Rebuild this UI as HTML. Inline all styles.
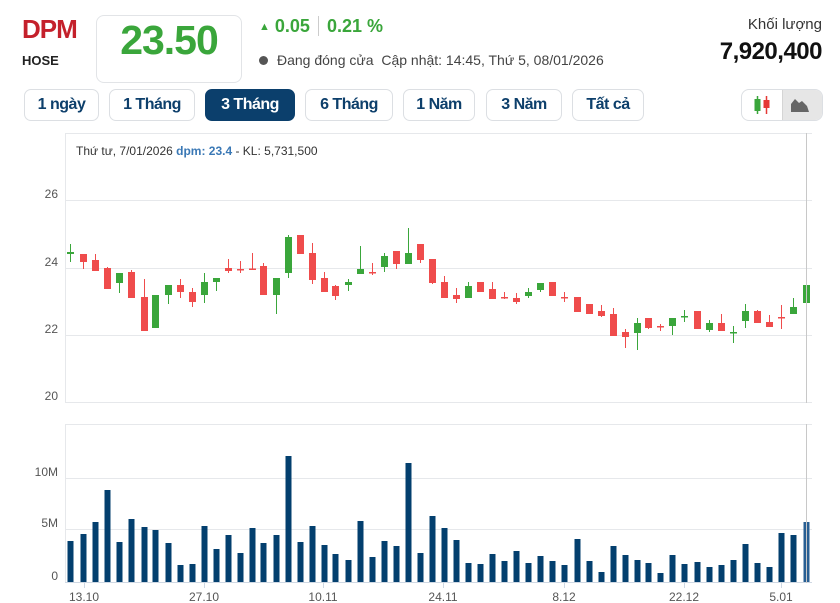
<!DOCTYPE html>
<html><head><meta charset="utf-8">
<style>
body{margin:0;background:#fff;font-family:"Liberation Sans",sans-serif;width:840px;height:603px;overflow:hidden;position:relative}
.a{position:absolute;white-space:nowrap}
.btn{position:absolute;top:89px;height:30px;border:1px solid #dcdfe3;border-radius:7px;font-size:16px;font-weight:bold;color:#0d3f6b;text-align:center;line-height:30px;letter-spacing:-0.5px}
.act{background:#0b3f6c;color:#fff;border-color:#0b3f6c}
</style></head><body>
<div class="a" style="left:22px;top:14px;font-size:26px;font-weight:bold;color:#c4202b;letter-spacing:-1px">DPM</div>
<div class="a" style="left:22px;top:53px;font-size:13px;font-weight:bold;color:#222">HOSE</div>
<div class="a" style="left:96px;top:15px;width:144px;height:66px;border:1px solid #e2e4e7;border-radius:8px"></div>
<div class="a" style="left:96px;top:17px;width:146px;text-align:center;font-size:41px;font-weight:bold;color:#3aa63b;letter-spacing:-1px">23.50</div>
<div class="a" style="left:259px;top:16px;font-size:18px;font-weight:bold;color:#3aa63b"><span style="font-size:11px;position:relative;top:-2px">▲</span> 0.05 <span style="display:inline-block;width:1px;height:20px;background:#ccc;vertical-align:-4px;margin:0 3px"></span> 0.21 %</div>
<div class="a" style="left:259px;top:52px;font-size:14px;color:#444"><span style="display:inline-block;width:9px;height:9px;border-radius:50%;background:#555;margin-right:9px"></span>Đang đóng cửa&nbsp; Cập nhật: 14:45, Thứ 5, 08/01/2026</div>
<div class="a" style="right:18px;top:16px;font-size:15px;color:#333">Khối lượng</div>
<div class="a" style="right:18px;top:38px;font-size:24px;font-weight:bold;color:#111;letter-spacing:-0.5px">7,920,400</div>
<div class="btn" style="left:24px;width:73px">1 ngày</div>
<div class="btn" style="left:109px;width:84px">1 Tháng</div>
<div class="btn act" style="left:205px;width:88px">3 Tháng</div>
<div class="btn" style="left:305px;width:86px">6 Tháng</div>
<div class="btn" style="left:403px;width:70px">1 Năm</div>
<div class="btn" style="left:486px;width:74px">3 Năm</div>
<div class="btn" style="left:572px;width:70px">Tất cả</div>
<div class="a" style="left:741px;top:89px;width:80px;height:30px;border:1px solid #dcdfe3;border-radius:8px;overflow:hidden">
<div style="position:absolute;left:40px;top:0;width:40px;height:30px;background:#e6e6e6;border-left:1px solid #d5d5d5"></div>
<svg width="80" height="30" style="position:absolute;left:0;top:0"><line x1="15.5" y1="6" x2="15.5" y2="24" stroke="#3aa63b" stroke-width="1.5"/><rect x="12.5" y="9" width="6" height="12" fill="#3aa63b"/><line x1="24.5" y1="6" x2="24.5" y2="24" stroke="#e53935" stroke-width="1.5"/><rect x="21.5" y="10" width="6" height="8" fill="#e53935"/><path d="M49 22 L49 14 L53 9 L57 13 L60 11 L65 16 L67 22 Z" fill="#666"/></svg></div>
<svg id="c" class="a" style="left:0;top:0" width="840" height="603"></svg>
<script>
var s='';
function L(x1,y1,x2,y2,c,w){s+='<line x1="'+x1+'" y1="'+y1+'" x2="'+x2+'" y2="'+y2+'" stroke="'+c+'" stroke-width="'+(w||1)+'"/>';}
function T(x,y,t,a,extra){s+='<text x="'+x+'" y="'+y+'" font-size="12" fill="#555" text-anchor="'+(a||'start')+'" '+(extra||'')+'>'+t+'</text>';}
L(65,133.5,812,133.5,'#e6e8eb');
[[200,'26'],[268,'24'],[335,'22'],[402,'20']].forEach(function(g){L(65,g[0]+.5,812,g[0]+.5,'#e6e8eb');T(58,g[0]-2,g[1],'end');});
L(65.5,133,65.5,403,'#e6e8eb');
L(65,424.5,812,424.5,'#e6e8eb');
[[478,'10M'],[529,'5M'],[582,'0']].forEach(function(g){L(65,g[0]+.5,812,g[0]+.5,'#e6e8eb');T(58,g[0]-2,g[1],'end');});
L(65.5,424,65.5,583,'#e6e8eb');
L(65,582.5,812,582.5,'#cfd8e3');
[[84,'13.10'],[204,'27.10'],[323,'10.11'],[443,'24.11'],[564,'8.12'],[684,'22.12'],[781,'5.01']].forEach(function(g){L(g[0]+.5,583,g[0]+.5,588,'#cfd8e3');T(g[0],601,g[1],'middle');});
var G='#3aa63b',R='#ef4c4c';
var C=[[70,G,252,254,244,262],[83,R,254,262,254,269],[95,R,260,271,254,271],[107,R,268,289,267,289],[119,G,273,283,273,293],[131,R,272,298,270,298],[144,R,297,331,279,331],[155,G,295,328,295,328],[168,G,285,295,285,304],[180,R,285,292,279,298],[192,R,292,302,288,307],[204,G,282,295,273,303],[216,G,278,282,278,291],[228,R,268,271,259,273],[240,R,269,270.5,261,273],[252,R,268.5,270,253,270],[263,R,266,295,263,295],[276,G,278,295,278,314],[288,G,237,273,235,278],[300,R,235,254,235,254],[312,R,253,280,243,284],[324,R,278,292,272,292],[335,R,286,296,285,300],[348,G,282,285,279,291],[360,G,269,274,246,274],[372,R,272,273.5,263,275],[384,G,256,267,253,272],[396,R,251,264,251,269],[408,G,253,264,228,264],[420,R,244,260,244,263],[432,R,259,283,259,284],[444,R,282,298,276,298],[456,R,295,299,288,303],[468,G,286,298,282,298],[480,R,282,292,282,292],[492,R,289,299,282,299],[504,R,297,298.5,292,299],[516,R,298,302,293,304],[528,G,292,296,288,298],[540,G,283,290,283,292],[552,R,282,296,282,296],[564,R,297,298.5,292,302],[577,R,297,312,297,312],[589,R,304,314,304,314],[601,R,311,316,305,317],[613,R,314,336,308,336],[625,R,332,337,329,348],[637,G,323,333,318,350],[648,R,318,328,318,329],[660,R,326,327.5,324,331],[672,G,318,326,318,335],[684,G,316,317.5,310,322],[697,R,311,329,311,329],[709,G,323,330,320,332],[721,R,323,331,314,331],[733,G,332,333.5,326,343],[745,G,311,321,304,328],[757,R,311,323,310,323],[769,R,322,327,315,327],[781,R,317,318.5,305,329],[793,G,307,314,298,314],[806,G,285,303,282,308]];
var V=[541,534,522,490,542,519,527,530,543,565,564,526,549,535,553,528,543,535,456,542,526,545,554,560,521,557,541,546,463,553,516,528,540,563,564,554,561,551,563,556,561,565,539,561,572,546,555,560,563,573,555,564,562,567,565,560,544,563,567,533,535,522];
C.forEach(function(c,i){
 var x=c[0];
 L(x+.5,c[4],x+.5,c[5],c[1]);
 s+='<rect x="'+(x-3)+'" y="'+c[2]+'" width="7" height="'+Math.max(1.5,c[3]-c[2])+'" fill="'+c[1]+'"/>';
 var t=V[i];s+='<rect x="'+(x-2.5)+'" y="'+t+'" width="6" height="'+(582-t)+'" fill="'+(i==C.length-1?'#285f93':'#033f6e')+'"/>';
});
L(806.5,133,806.5,403,'#c8c8c8');L(806.5,424,806.5,583,'#c8c8c8');
s+='<text x="76" y="155" font-size="12" fill="#333">Thứ tư, 7/01/2026 <tspan fill="#3a78b5" font-weight="bold">dpm: 23.4</tspan> - KL: 5,731,500</text>';
document.getElementById('c').innerHTML=s;
</script>
</body></html>
